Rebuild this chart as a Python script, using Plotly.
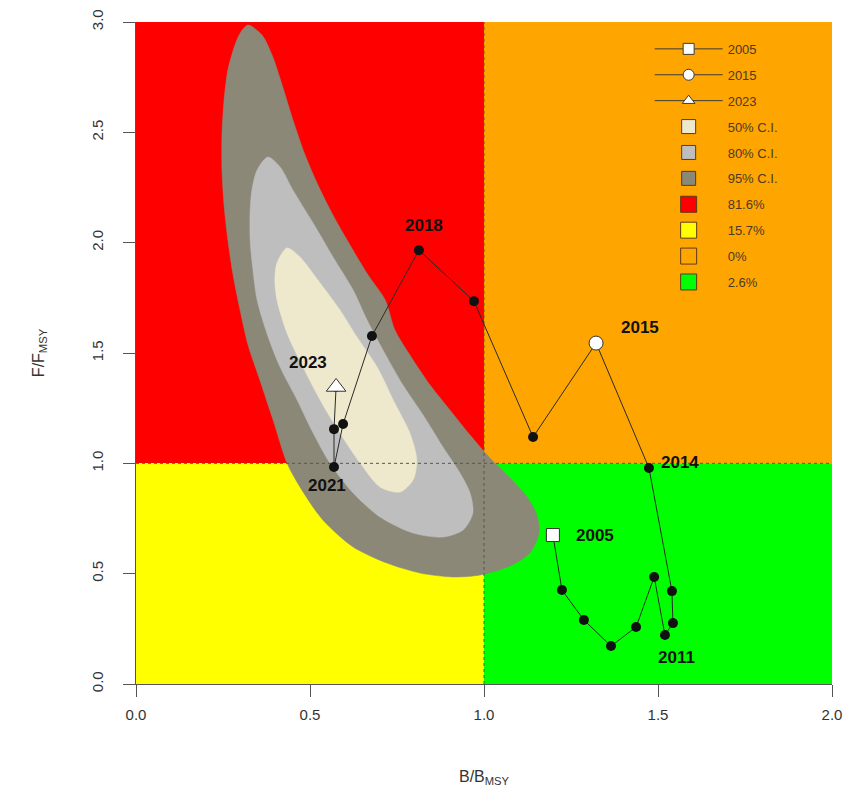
import plotly.graph_objects as go

# ---------------- data ----------------
years = list(range(2005, 2024))
b_ratio = [1.198, 1.224, 1.287, 1.365, 1.437, 1.489, 1.520, 1.543, 1.540, 1.474,
           1.322, 1.141, 0.971, 0.813, 0.678, 0.595, 0.569, 0.569, 0.575]
f_ratio = [0.675, 0.426, 0.290, 0.172, 0.258, 0.485, 0.222, 0.276, 0.421, 0.979,
           1.545, 1.119, 1.735, 1.966, 1.577, 1.178, 0.983, 1.155, 1.346]

labelled_years = [2018, 2015, 2014, 2005, 2011, 2021, 2023]
label_dx = [5, 44, 31, 42, 12, -7, -28]
label_dy = [-25, -16, -5, 0, 22, 18, -24]

ci95_b = [0.322, 0.362, 0.391, 0.420, 0.451, 0.486, 0.523, 0.566, 0.615, 0.667, 0.716, 0.744,
          0.787, 0.845, 0.902, 0.960, 1.017, 1.075, 1.124, 1.152, 1.158, 1.132, 1.075, 0.989,
          0.911, 0.816, 0.721, 0.624, 0.537, 0.471, 0.434, 0.394, 0.356, 0.322, 0.299, 0.279,
          0.264, 0.253, 0.247, 0.247, 0.253, 0.264, 0.284, 0.301]
ci95_f = [2.986, 2.941, 2.850, 2.714, 2.556, 2.397, 2.261, 2.125, 1.989, 1.853, 1.740, 1.604,
          1.491, 1.355, 1.242, 1.128, 1.024, 0.933, 0.847, 0.766, 0.684, 0.594, 0.535, 0.494,
          0.485, 0.503, 0.548, 0.621, 0.743, 0.893, 1.001, 1.196, 1.377, 1.536, 1.695, 1.853,
          2.012, 2.170, 2.329, 2.488, 2.646, 2.782, 2.895, 2.954]

ci80_b = [0.379, 0.414, 0.451, 0.509, 0.566, 0.624, 0.664, 0.710, 0.767, 0.825, 0.882, 0.931,
          0.960, 0.968, 0.940, 0.882, 0.796, 0.701, 0.624, 0.557, 0.509, 0.463, 0.414, 0.376,
          0.348, 0.336, 0.328, 0.328, 0.333, 0.348]
ci80_f = [2.388, 2.343, 2.238, 2.089, 1.935, 1.785, 1.649, 1.513, 1.355, 1.219, 1.074, 0.956,
          0.865, 0.775, 0.698, 0.666, 0.684, 0.757, 0.865, 1.001, 1.137, 1.287, 1.436, 1.590,
          1.740, 1.876, 2.012, 2.148, 2.238, 2.329]

ci50_b = [0.434, 0.471, 0.529, 0.586, 0.635, 0.693, 0.739, 0.787, 0.807, 0.796, 0.759, 0.701,
          0.644, 0.586, 0.529, 0.480, 0.434, 0.405, 0.399, 0.405]
ci50_f = [1.976, 1.935, 1.817, 1.695, 1.572, 1.436, 1.287, 1.137, 1.015, 0.924, 0.870, 0.893,
          1.001, 1.137, 1.287, 1.436, 1.590, 1.740, 1.831, 1.908]

ci_names = ["50% C.I.", "80% C.I.", "95% C.I."]
zone_names = ["81.6%", "15.7%", "0%", "2.6%"]
x_ticks = [0.0, 0.5, 1.0, 1.5, 2.0]
y_ticks = [0.0, 0.5, 1.0, 1.5, 2.0, 2.5, 3.0]

# ---------------- styles ----------------
RED, YELLOW, ORANGE, GREEN = "#FF0000", "#FFFF00", "#FFA500", "#00FF00"
C95, C80, C50 = "#8B8878", "#BEBEBE", "#EEE8CD"
zone_colors = [RED, YELLOW, ORANGE, GREEN]
zone_extent = [(0, 1, 1, 3), (0, 1, 0, 1), (1, 2, 1, 3), (1, 2, 0, 1)]

fig = go.Figure()

for (x0, x1, y0, y1), col in zip(zone_extent, zone_colors):
    fig.add_shape(type="rect", x0=x0, x1=x1, y0=y0, y1=y1, xref="x", yref="y",
                  fillcolor=col, line_width=0, layer="below")

def closed(a):
    return list(a) + [a[0]]

for bx, fy, col in [(ci95_b, ci95_f, C95), (ci80_b, ci80_f, C80), (ci50_b, ci50_f, C50)]:
    fig.add_trace(go.Scatter(x=closed(bx), y=closed(fy), mode="lines", fill="toself",
                             fillcolor=col, line=dict(color=col, width=0.5, shape="spline", smoothing=0.8),
                             hoverinfo="skip", showlegend=False))

fig.add_trace(go.Scatter(x=[1, 1], y=[0, 3], mode="lines",
                         line=dict(color="#555555", width=1, dash="dot"), showlegend=False, hoverinfo="skip"))
fig.add_trace(go.Scatter(x=[0, 2], y=[1, 1], mode="lines",
                         line=dict(color="#555555", width=1, dash="dot"), showlegend=False, hoverinfo="skip"))

fig.add_trace(go.Scatter(x=b_ratio, y=f_ratio, mode="lines+markers",
                         line=dict(color="#2a2a2a", width=1),
                         marker=dict(color="#111111", size=10),
                         showlegend=False, hoverinfo="skip"))

special = {2005: ("square", 13), 2015: ("circle", 14), 2023: ("triangle-up", 17)}
for yr, (sym, sz) in special.items():
    i = years.index(yr)
    fig.add_trace(go.Scatter(x=[b_ratio[i]], y=[f_ratio[i]], mode="markers",
                             marker=dict(symbol=sym, size=sz, color="white",
                                         line=dict(color="#333333", width=1)),
                             showlegend=False, hoverinfo="skip"))

for yr, dx, dy in zip(labelled_years, label_dx, label_dy):
    i = years.index(yr)
    fig.add_annotation(x=b_ratio[i], y=f_ratio[i], text="<b>%d</b>" % yr, showarrow=False,
                       xshift=dx, yshift=-dy, font=dict(size=17, color="#111111", family="Liberation Sans"))

for yr, (sym, sz) in special.items():
    fig.add_trace(go.Scatter(x=[None], y=[None], mode="lines+markers", name=str(yr),
                             line=dict(color="#3a3a3a", width=1),
                             marker=dict(symbol=sym, size=11, color="white",
                                         line=dict(color="#3a3a3a", width=1)),
                             legendgroup=str(yr)))
for nm, col in zip(ci_names, [C50, C80, C95]):
    fig.add_trace(go.Scatter(x=[None], y=[None], mode="markers", name=nm,
                             marker=dict(symbol="square", size=14, color=col,
                                         line=dict(color="#5a3a1a", width=1)),
                             legendgroup=nm))
for nm, col in zip(zone_names, zone_colors):
    fig.add_trace(go.Scatter(x=[None], y=[None], mode="markers", name=nm,
                             marker=dict(symbol="square", size=16, color=col,
                                         line=dict(color="#5a3a1a", width=1)),
                             legendgroup=nm))

axis_font = dict(family="Liberation Sans", size=15, color="#333333")
title_font = dict(family="Liberation Sans", size=16, color="#333333")
fig.update_layout(
    width=850, height=799,
    margin=dict(l=136, r=18, t=22, b=115),
    paper_bgcolor="white", plot_bgcolor="white",
    font=dict(family="Liberation Sans", color="#333333"),
    showlegend=True,
    legend=dict(x=0.738, y=0.982, xanchor="left", yanchor="top", bgcolor="rgba(0,0,0,0)",
                font=dict(size=13, color="#4a3a2a", family="Liberation Sans"),
                tracegroupgap=6, itemwidth=68),
    xaxis=dict(range=[0, 2], tickvals=x_ticks, ticktext=["%.1f" % v for v in x_ticks],
               showgrid=False, zeroline=False, ticks="outside", ticklen=12, tickcolor="#555555",
               ticklabelstandoff=5, automargin=False,
               showline=True, linecolor="#555555", tickfont=axis_font,
               title=dict(text="B/B<sub>MSY</sub>", font=title_font, standoff=48)),
    yaxis=dict(range=[0, 3], tickvals=y_ticks, ticktext=["%.1f" % v for v in y_ticks],
               showgrid=False, zeroline=False, ticks="outside", ticklen=12, tickcolor="#555555",
               ticklabelstandoff=14, automargin=False,
               showline=True, linecolor="#555555", tickfont=axis_font, tickangle=-90,
               title=dict(text="F/F<sub>MSY</sub>", font=title_font, standoff=40)),
)

fig.write_html("out.html", config={"displayModeBar": False},
               post_script="document.body.style.margin='0';document.body.style.overflow='hidden';")
